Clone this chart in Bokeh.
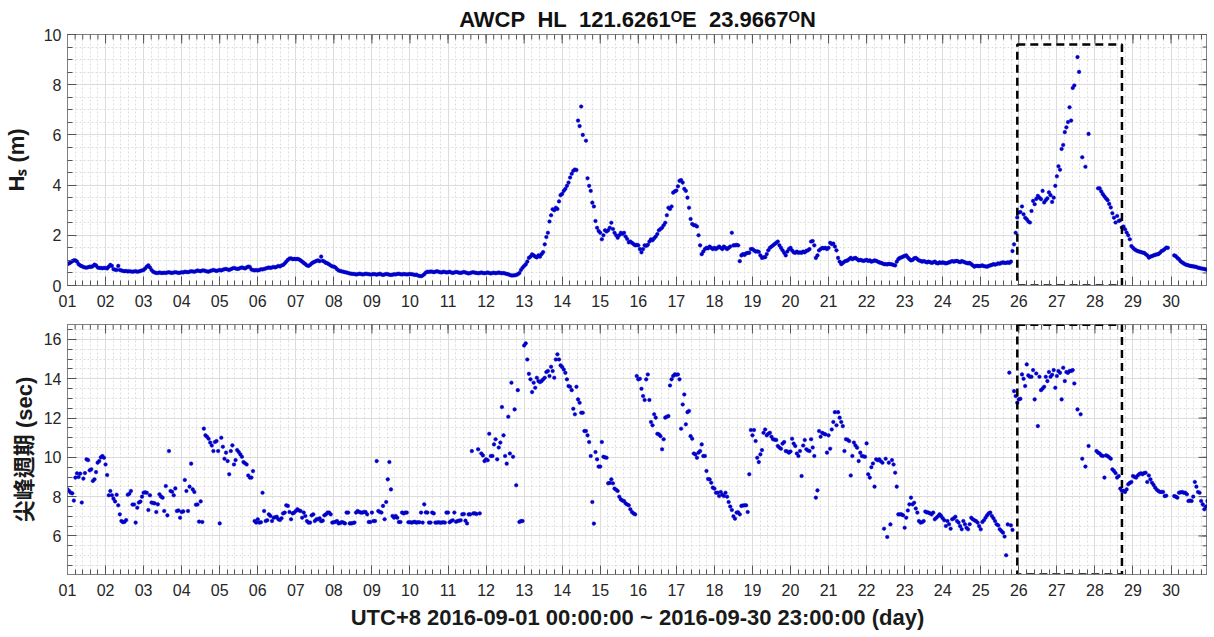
import numpy as np
from bokeh.plotting import figure
from bokeh.models import Range1d, FixedTicker, SingleIntervalTicker
from bokeh.layouts import column
from bokeh.embed import file_html
from bokeh.resources import INLINE

# ---------------- data (hourly, 2016-09-01 00:00 .. 2016-09-30 23:00) ----------------
day_labels = ["01", "02", "03", "04", "05", "06", "07", "08", "09", "10",
              "11", "12", "13", "14", "15", "16", "17", "18", "19", "20",
              "21", "22", "23", "24", "25", "26", "27", "28", "29", "30"]

N = None
hs_m = [
    0.85, 0.88, 0.92, 0.97, 1.0, 1.0, 0.95, 0.85, 0.8, 0.77, 0.74, 0.72, 0.71, 0.73, 0.75, 0.74, 0.77, 0.83, 0.8, 0.72, 0.7, 0.7, 0.69, 0.7,
    0.7, 0.68, 0.75, 0.82, 0.78, 0.65, 0.63, 0.62, 0.78, 0.62, 0.6, 0.58, 0.57, 0.58, 0.56, 0.57, 0.56, 0.55, 0.56, 0.57, 0.55, 0.56, 0.58, 0.6,
    0.62, 0.68, 0.75, 0.8, 0.72, 0.62, 0.55, 0.52, 0.5, 0.5, 0.52, 0.5, 0.5, 0.51, 0.5, 0.52, 0.53, 0.51, 0.5, 0.52, 0.53, 0.52, 0.5, 0.51,
    0.53, 0.52, 0.55, 0.54, 0.53, 0.55, 0.57, 0.56, 0.55, 0.57, 0.6, 0.58, 0.57, 0.6, 0.6, 0.58, 0.56, 0.55, 0.58, 0.6, 0.62, 0.6, 0.58, 0.6,
    0.62, 0.6, 0.63, 0.65, 0.66, 0.64, 0.62, 0.65, 0.68, 0.7, 0.68, 0.66, 0.67, 0.7, 0.72, 0.7, 0.68, 0.72, 0.75, 0.74, 0.64, 0.62, 0.6, 0.62,
    0.6, 0.62, 0.65, 0.64, 0.66, 0.68, 0.7, 0.72, 0.7, 0.72, 0.74, 0.72, 0.75, 0.78, 0.76, 0.8, 0.82, 0.88, 0.95, 1.02, 1.07, 1.08, 1.05, 1.06,
    1.05, 1.06, 1.04, 1.0, 0.95, 0.9, 0.85, 0.8, 0.78, 0.82, 0.88, 0.92, 0.95, 0.98, 1.0, 0.97, 1.15, 0.98, 0.95, 0.9, 0.88, 0.84, 0.8, 0.76,
    0.75, 0.72, 0.65, 0.6, 0.58, 0.56, 0.55, 0.53, 0.52, 0.5, 0.48, 0.47, 0.46, 0.46, 0.44, 0.45, 0.47, 0.46, 0.44, 0.45, 0.47, 0.46, 0.45, 0.44,
    0.44, 0.46, 0.45, 0.43, 0.45, 0.47, 0.44, 0.42, 0.44, 0.46, 0.45, 0.43, 0.42, 0.43, 0.45, 0.44, 0.46, 0.47, 0.45, 0.44, 0.46, 0.45, 0.44, 0.45,
    0.46, 0.45, 0.44, 0.42, 0.43, 0.4, 0.38, 0.37, 0.4, 0.45, 0.52, 0.55, 0.54, 0.56, 0.55, 0.53, 0.55, 0.57, 0.55, 0.53, 0.52, 0.55, 0.54, 0.52,
    0.53, 0.55, 0.52, 0.5, 0.52, 0.54, 0.53, 0.51, 0.5, 0.52, 0.54, 0.52, 0.5, 0.48, 0.5, 0.52, 0.53, 0.51, 0.5, 0.49, 0.5, 0.52, 0.5, 0.49,
    0.5, 0.52, 0.5, 0.48, 0.5, 0.51, 0.49, 0.5, 0.52, 0.5, 0.49, 0.5, 0.48, 0.46, 0.45, 0.42, 0.4, 0.4, 0.41, 0.42, 0.45, 0.5, 0.62, 0.71,
    0.78, 0.84, 0.95, 1.1, 1.15, 1.24, 1.2, 1.15, 1.12, 1.2, 1.15, 1.25, 1.33, 1.64, 1.93, 2.1, 2.55, 2.8, 3.04, 3.0, 3.1, 3.05, 3.35, 3.6,
    3.65, 3.77, 3.85, 3.97, 4.1, 4.3, 4.45, 4.57, 4.62, 4.6, 6.57, 6.35, 7.13, 6.0, N, 5.77, 4.27, 3.97, 3.77, 3.3, 3.15, 2.57, 2.3, 2.17,
    2.1, 1.84, 2.0, 2.2, 2.15, 2.2, 2.3, 2.5, 2.25, 2.1, 2.0, 1.9, 2.0, 2.1, 2.05, 2.1, 1.95, 1.85, 1.72, 1.75, 1.7, 1.65, 1.6, 1.62,
    1.6, 1.45, 1.32, 1.45, 1.6, 1.58, 1.62, 1.75, 1.84, 1.8, 1.88, 1.95, 2.05, 2.2, 2.25, 2.3, 2.4, 2.5, 2.8, 3.1, 3.05, 3.15, 3.7, 3.75,
    3.78, 3.95, 4.17, 4.2, 4.1, 3.85, 3.77, 3.5, 3.1, 2.65, 2.45, 2.4, 2.4, 2.35, 2.0, 1.6, 1.25, 1.35, 1.45, 1.5, 1.48, 1.55, 1.5, 1.45,
    1.5, 1.45, 1.5, 1.55, 1.5, 1.45, 1.55, 1.5, 1.45, 1.5, 1.55, 2.1, 1.6, 1.6, 1.62, 1.6, 0.97, 1.2, 1.25, 1.22, 1.28, 1.3, 1.3, 1.45,
    1.45, 1.4, 1.35, 1.36, 1.34, 1.2, 1.1, 1.12, 1.13, 1.25, 1.4, 1.5, 1.55, 1.6, 1.65, 1.7, 1.75, 1.6, 1.5, 1.4, 1.3, 1.2, 1.35, 1.45,
    1.5, 1.4, 1.32, 1.3, 1.35, 1.3, 1.32, 1.3, 1.35, 1.32, 1.38, 1.4, 1.45, 1.75, 1.77, 1.6, 1.1, 1.2, 1.4, 1.45, 1.5, 1.48, 1.5, 1.45,
    1.5, 1.7, 1.65, 1.67, 1.55, 1.4, 1.1, 0.95, 0.85, 0.9, 0.95, 0.98, 1.0, 1.05, 1.1, 1.05, 1.08, 1.1, 1.05, 1.0, 1.02, 1.0, 0.98, 1.0,
    1.02, 0.98, 1.0, 0.95, 0.97, 1.0, 0.98, 0.95, 0.92, 0.9, 0.88, 0.85, 0.85, 0.84, 0.86, 0.85, 0.84, 0.82, 0.8, 0.95, 1.05, 1.1, 1.12, 1.15,
    1.18, 1.2, 1.12, 1.05, 1.0, 1.02, 1.08, 1.1, 1.05, 1.0, 0.98, 0.95, 0.97, 0.95, 0.92, 0.95, 0.93, 0.9, 0.92, 0.95, 0.9, 0.88, 0.92, 0.9,
    0.92, 0.9, 0.88, 0.9, 0.92, 0.95, 0.97, 0.95, 0.97, 0.98, 0.95, 0.93, 0.97, 0.95, 0.92, 0.9, 0.88, 0.9, 0.85, 0.8, 0.75, 0.78, 0.78, 0.77,
    0.78, 0.8, 0.77, 0.76, 0.75, 0.78, 0.8, 0.82, 0.85, 0.83, 0.85, 0.88, 0.87, 0.9, 0.92, 0.9, 0.9, 0.92, 0.9, 0.95, 1.37, 1.64, 2.1, 2.71,
    2.91, 2.93, 3.15, 2.84, 2.7, 2.64, 2.55, 2.51, 2.97, 3.37, 3.24, 3.45, 3.57, 3.5, 3.44, 3.77, 3.31, 3.4, 3.47, 3.71, 3.6, 3.33, 3.5, 3.97,
    4.35, 4.75, 4.61, 5.44, 5.6, 6.11, 6.3, 6.51, 7.1, 6.57, 7.87, 7.97, N, 9.1, 8.51, N, 5.11, N, 4.73, N, 6.04, N, N, N,
    N, N, 3.87, 3.87, 3.75, 3.64, 3.55, 3.47, 3.4, 3.25, 3.11, 2.88, 2.7, 2.51, 2.77, 2.57, 2.6, 2.31, 2.35, 2.24, 2.11, 2.0, 1.84, 1.57,
    1.5, 1.44, 1.4, 1.37, 1.35, 1.33, 1.31, 1.3, 1.25, 1.2, 1.11, 1.15, 1.17, 1.2, 1.22, 1.24, 1.25, 1.3, 1.37, 1.4, 1.45, 1.51, 1.5, N,
    N, N, 1.2, 1.17, 1.1, 1.05, 0.97, 0.92, 0.88, 0.84, 0.82, 0.8, 0.78, 0.77, 0.76, 0.75, 0.74, 0.71, 0.7, 0.68, 0.67, 0.66, 0.64, 0.63,
]

tp_sec = [
    8.37, 8.29, 8.2, 8.17, 7.8, 8.97, 9.19, 9.0, 9.17, 7.7, 8.92, 9.2, 9.9, 9.86, 9.34, 9.39, 8.8, 8.88, 9.25, 9.73, 9.81, 10.0, 10.07, 9.98,
    9.64, 9.1, 8.07, 8.29, 8.07, 7.9, 7.76, 8.1, 7.56, 7.1, 6.76, 6.7, 6.72, 6.81, 8.1, 8.15, 8.29, 7.6, 7.6, 6.68, 7.44, 7.7, 7.75, 8.0,
    8.2, 8.22, 8.2, 7.32, 8.07, 7.7, 7.68, 7.66, 7.22, 7.61, 8.12, 8.0, 7.95, 7.27, 8.54, 7.05, 10.32, 8.29, 8.25, 8.07, 8.42, 7.27, 7.3, 6.93,
    7.22, 7.25, 8.85, 8.29, 7.27, 8.51, 9.68, 8.37, 8.24, 7.59, 7.6, 6.73, 7.76, 6.71, 11.46, 11.12, 11.05, 10.95, 10.75, 10.6, 10.32, 10.78, 10.83, 10.32,
    6.64, 11.0, 10.54, 9.93, 10.24, 9.81, 9.14, 10.32, 10.61, 9.64, 9.86, 10.37, 10.27, 10.15, 10.03, 9.76, 9.7, 9.64, 9.08, 8.97, 8.97, 9.3, 6.76, 6.68,
    6.85, 6.68, 6.7, 8.2, 7.27, 6.76, 6.8, 7.1, 7.02, 6.76, 6.93, 6.95, 6.98, 6.85, 6.81, 6.9, 7.15, 7.19, 7.56, 7.53, 7.22, 6.85, 7.15, 7.19,
    7.27, 7.36, 7.3, 7.27, 6.93, 7.19, 7.02, 6.76, 6.68, 6.68, 7.05, 7.1, 6.76, 6.85, 6.85, 6.9, 6.75, 6.78, 7.05, 7.1, 7.19, 7.19, 7.1, 6.68,
    6.7, 6.72, 6.76, 6.64, 6.66, 6.71, 6.68, 6.64, 7.19, 7.19, 6.64, 6.64, 6.66, 6.68, 7.19, 7.27, 7.22, 7.19, 7.19, 7.22, 7.22, 7.1, 6.71, 6.71,
    7.19, 6.76, 6.76, 9.81, 7.27, 7.22, 7.19, 7.53, 6.85, 7.73, 8.88, 9.76, 8.37, 7.02, 6.93, 7.02, 6.93, 6.71, 6.71, 7.19, 7.15, 7.19, 7.19, 6.7,
    6.7, 6.68, 6.7, 6.72, 6.68, 6.7, 6.7, 7.19, 6.68, 7.61, 7.2, 7.19, 6.68, 6.68, 7.19, 7.15, 6.68, 6.68, 6.7, 6.68, 6.68, 6.7, 6.68, 7.19,
    7.19, 6.7, 6.76, 6.8, 7.19, 6.72, 6.76, 6.78, 6.8, 7.1, 7.12, 6.78, 6.64, 7.1, 7.1, 10.32, 7.15, 7.15, 7.12, 10.41, 7.15, 10.2, 10.1, 9.81,
    9.9, 9.85, 11.2, 10.07, 10.07, 10.66, 10.92, 9.9, 10.5, 10.75, 12.56, 11.12, 10.07, 9.68, 12.07, 10.2, 13.8, 10.03, 12.44, 8.58, 13.42, 6.71, 6.76, 6.76,
    15.69, 15.8, 14.98, 14.25, 13.97, 13.32, 13.8, 13.54, 14.05, 13.88, 13.83, 13.88, 13.97, 14.05, 14.34, 14.39, 14.14, 14.61, 14.39, 14.05, 14.98, 15.24, 14.98, 14.68,
    14.6, 14.47, 14.3, 13.97, 13.63, 13.59, 13.42, 12.47, 12.19, 13.59, 12.95, 12.78, 12.27, 12.27, 11.34, 11.34, 11.12, 10.78, 10.07, 7.73, 6.63, 10.27, 9.9, 9.53,
    9.53, 10.78, 10.03, 10.0, 9.98, 8.68, 8.7, 8.88, 8.68, 8.41, 8.35, 8.29, 8.0, 7.86, 7.8, 7.78, 7.66, 7.6, 7.56, 7.36, 7.22, 7.15, 7.1, 14.14,
    13.97, 14.0, 13.49, 13.12, 12.92, 13.97, 14.22, 12.92, 11.8, 11.63, 12.19, 12.02, 11.2, 11.17, 11.08, 10.41, 10.92, 12.02, 12.07, 12.1, 13.66, 13.97, 14.14, 14.22,
    14.2, 14.22, 13.97, 11.46, 12.69, 13.2, 11.68, 12.3, 12.36, 11.08, 10.95, 10.2, 10.15, 9.98, 10.24, 10.32, 10.66, 10.07, 10.07, 9.31, 8.9, 8.88, 8.71, 8.46,
    8.41, 8.2, 8.2, 8.03, 8.24, 8.1, 8.03, 8.2, 8.0, 7.73, 7.5, 7.32, 7.0, 6.88, 7.19, 7.2, 7.1, 7.53, 7.55, 7.56, 7.56, 7.22, 9.14, 11.39,
    11.12, 11.39, 10.83, 9.98, 9.76, 10.15, 10.37, 11.25, 11.42, 11.12, 11.2, 11.25, 11.05, 10.92, 10.9, 10.88, 10.58, 10.5, 10.44, 10.7, 10.78, 10.32, 10.3, 10.24,
    10.3, 10.95, 10.7, 10.58, 10.2, 10.07, 10.32, 9.05, 10.6, 10.88, 10.41, 10.35, 10.32, 10.92, 10.5, 10.07, 7.95, 8.32, 11.34, 11.05, 11.25, 11.2, 11.17, 10.24,
    11.12, 10.44, 11.42, 11.8, 12.3, 11.63, 12.3, 12.02, 11.8, 11.59, 10.32, 10.92, 10.9, 10.83, 9.08, 10.07, 10.75, 10.6, 10.49, 9.81, 10.24, 10.07, 10.05, 10.03,
    10.71, 9.14, 8.97, 9.5, 9.69, 8.51, 9.9, 9.85, 9.9, 9.8, 9.73, 6.37, 9.93, 5.95, 9.73, 6.59, 9.86, 9.64, 9.22, 8.51, 7.1, 7.1, 7.1, 7.05,
    6.42, 6.93, 7.3, 7.61, 7.95, 7.61, 7.69, 7.4, 7.19, 6.76, 6.68, 6.7, 6.76, 7.24, 7.2, 7.19, 7.15, 7.1, 7.19, 6.85, 6.93, 7.0, 7.1, 7.02,
    6.9, 6.8, 6.51, 6.76, 6.6, 6.37, 6.85, 6.9, 6.98, 6.76, 6.68, 6.5, 6.34, 6.76, 6.6, 6.42, 6.34, 6.6, 6.93, 6.85, 6.8, 6.76, 6.68, 6.5,
    6.34, 6.71, 6.8, 6.93, 7.05, 7.15, 7.19, 7.02, 6.9, 6.76, 6.6, 6.54, 6.34, 6.25, 6.17, 5.97, 5.02, 6.59, 14.31, 6.54, 6.31, 13.37, 13.12, 12.78,
    12.95, 12.98, 14.22, 14.0, 13.63, 14.73, 14.17, 14.1, 14.1, 14.44, 12.95, 14.27, 11.59, 14.1, 13.42, 13.5, 13.59, 14.1, 13.88, 14.34, 14.1, 14.2, 14.44, 13.54,
    14.14, 14.39, 14.3, 12.95, 14.56, 13.88, 14.34, 14.3, 14.39, 14.4, 14.44, 13.76, N, 12.44, N, 12.19, 9.93, N, 9.53, N, 10.58, N, N, N,
    N, 10.32, 10.24, 10.2, 10.1, 10.07, 8.97, 10.1, 10.07, 10.0, 9.93, 9.39, 9.31, 9.2, 8.97, 9.05, 8.41, 8.29, 8.3, 8.24, 8.37, 8.63, 8.7, 8.75,
    9.05, 9.0, 8.97, 9.08, 9.15, 9.19, 9.14, 9.2, 9.22, 8.75, 9.08, 8.88, 8.71, 8.6, 8.46, 8.35, 8.29, 8.24, 8.24, 8.24, 8.03, 8.05, N, N,
    N, N, 8.03, 8.0, 7.95, 8.2, 8.22, 8.24, 8.2, 8.2, 8.12, 7.78, 7.8, 7.78, 8.0, 8.75, 8.51, 8.24, 8.2, 7.78, 7.61, 7.36, 7.5, 7.78,
]

# highlighted window (dashed box), in days of September 2016
box_days = [25.96, 28.71]
box_hs = [0.0, 9.6]
box_tp = [4.04, 16.75]

# ---------------- derived ----------------
hours = np.arange(len(hs_m))
t_day = 1.0 + hours / 24.0
hs = np.array(hs_m, dtype=float)
tp = np.array(tp_sec, dtype=float)

x_start, x_end = 1.0, 1.0 + (len(hs_m) - 1) / 24.0
major_days = list(range(1, 31))
minor_days = [1.0 + 0.2 * k for k in range(int((x_end - 1.0) / 0.2) + 1)]
overrides = {d: lab for d, lab in zip(major_days, day_labels)}

FONT = "Liberation Sans, Arial, Helvetica, sans-serif"
DOT = "#0000c8"
TICK = "#555555"
W = 1207
NB = "\u00a0"


def style_axis(ax):
    ax.axis_line_color = "#808080"
    ax.axis_line_width = 1
    ax.major_tick_line_color = TICK
    ax.minor_tick_line_color = TICK
    ax.major_tick_in = 9
    ax.major_tick_out = 0
    ax.minor_tick_in = 5
    ax.minor_tick_out = 0
    ax.major_label_text_font = FONT
    ax.major_label_text_font_size = "16px"
    ax.major_label_text_color = "#262626"


def make_panel(height, y0, y1, ylabel, y_values, box_y, top_border, bottom_border,
               ylabel_font, ylabel_standoff, xlabel=None):
    p = figure(width=W, height=height, output_backend="svg", toolbar_location=None,
               x_range=Range1d(x_start, x_end), y_range=Range1d(y0, y1),
               min_border_left=67, min_border_right=0,
               min_border_top=top_border, min_border_bottom=bottom_border)
    p.background_fill_color = "white"
    p.border_fill_color = "white"
    p.outline_line_color = "#808080"

    xt = FixedTicker(ticks=major_days, minor_ticks=minor_days)
    yt = SingleIntervalTicker(interval=2, num_minor_ticks=4)

    ax = p.xaxis[0]
    ax.ticker = xt
    ax.major_label_overrides = overrides
    style_axis(ax)
    ax.major_label_standoff = 9
    if xlabel:
        ax.axis_label = xlabel
        ax.axis_label_text_font = FONT
        ax.axis_label_text_font_size = "22px"
        ax.axis_label_text_font_style = "bold"
        ax.axis_label_text_color = "#1a1a1a"
        ax.axis_label_standoff = 6

    ay = p.yaxis[0]
    ay.ticker = yt
    style_axis(ay)
    ay.major_label_standoff = 6
    ay.axis_label = ylabel
    ay.axis_label_text_font = ylabel_font
    ay.axis_label_text_font_size = "22px"
    ay.axis_label_text_font_style = "bold"
    ay.axis_label_text_color = "#1a1a1a"
    ay.axis_label_standoff = ylabel_standoff

    p.xgrid.ticker = xt
    p.ygrid.ticker = yt
    for g in (p.xgrid[0], p.ygrid[0]):
        g.grid_line_color = "#dcdcdc"
        g.grid_line_width = 1
        g.minor_grid_line_color = "#dedede"
        g.minor_grid_line_dash = "2 2"
        g.minor_grid_line_width = 1

    # mirrored inward ticks on the top and right edges of the box (clipped at the frame)
    y_major = [v for v in range(0, 20, 2) if y0 <= v <= y1]
    y_minor = [v / 2.0 for v in range(0, 40) if y0 <= v / 2.0 <= y1]
    p.scatter(major_days, [y1] * len(major_days), marker="dash", angle=np.pi / 2,
              size=18, line_color=TICK, line_width=1)
    p.scatter(minor_days, [y1] * len(minor_days), marker="dash", angle=np.pi / 2,
              size=10, line_color=TICK, line_width=1)
    p.scatter([x_end] * len(y_major), y_major, marker="dash",
              size=18, line_color=TICK, line_width=1)
    p.scatter([x_end] * len(y_minor), y_minor, marker="dash",
              size=10, line_color=TICK, line_width=1)

    p.scatter(t_day, y_values, size=3.6, marker="circle",
              fill_color=DOT, line_color=DOT, line_width=0.5)

    p.quad(left=[box_days[0]], right=[box_days[1]], bottom=[box_y[0]], top=[box_y[1]],
           fill_color=None, line_color="black", line_width=2.5, line_dash="8 5")
    return p


p1 = make_panel(310, 0, 10, "Hₛ (m)", hs, box_hs, 34, 25, FONT, 12)
p1.title.text = "AWCP" + NB * 2 + "HL" + NB * 2 + "121.6261ᴼE" + NB * 2 + "23.9667ᴼN"
p1.title.align = "center"
p1.title.text_font = FONT
p1.title.text_font_size = "22px"
p1.title.text_font_style = "bold"
p1.title.text_color = "#111111"
p1.title.standoff = 6

p2 = make_panel(324, 4.04, 16.76, "尖峰週期 (sec)", tp, box_tp, 14, 60,
                "Liberation Sans, Noto Sans CJK TC, sans-serif", 4,
                xlabel="UTC+8 2016-09-01 00:00:00 ~ 2016-09-30 23:00:00 (day)")

layout = column(p1, p2, spacing=0)
open("out.html", "w").write(file_html(layout, INLINE))
